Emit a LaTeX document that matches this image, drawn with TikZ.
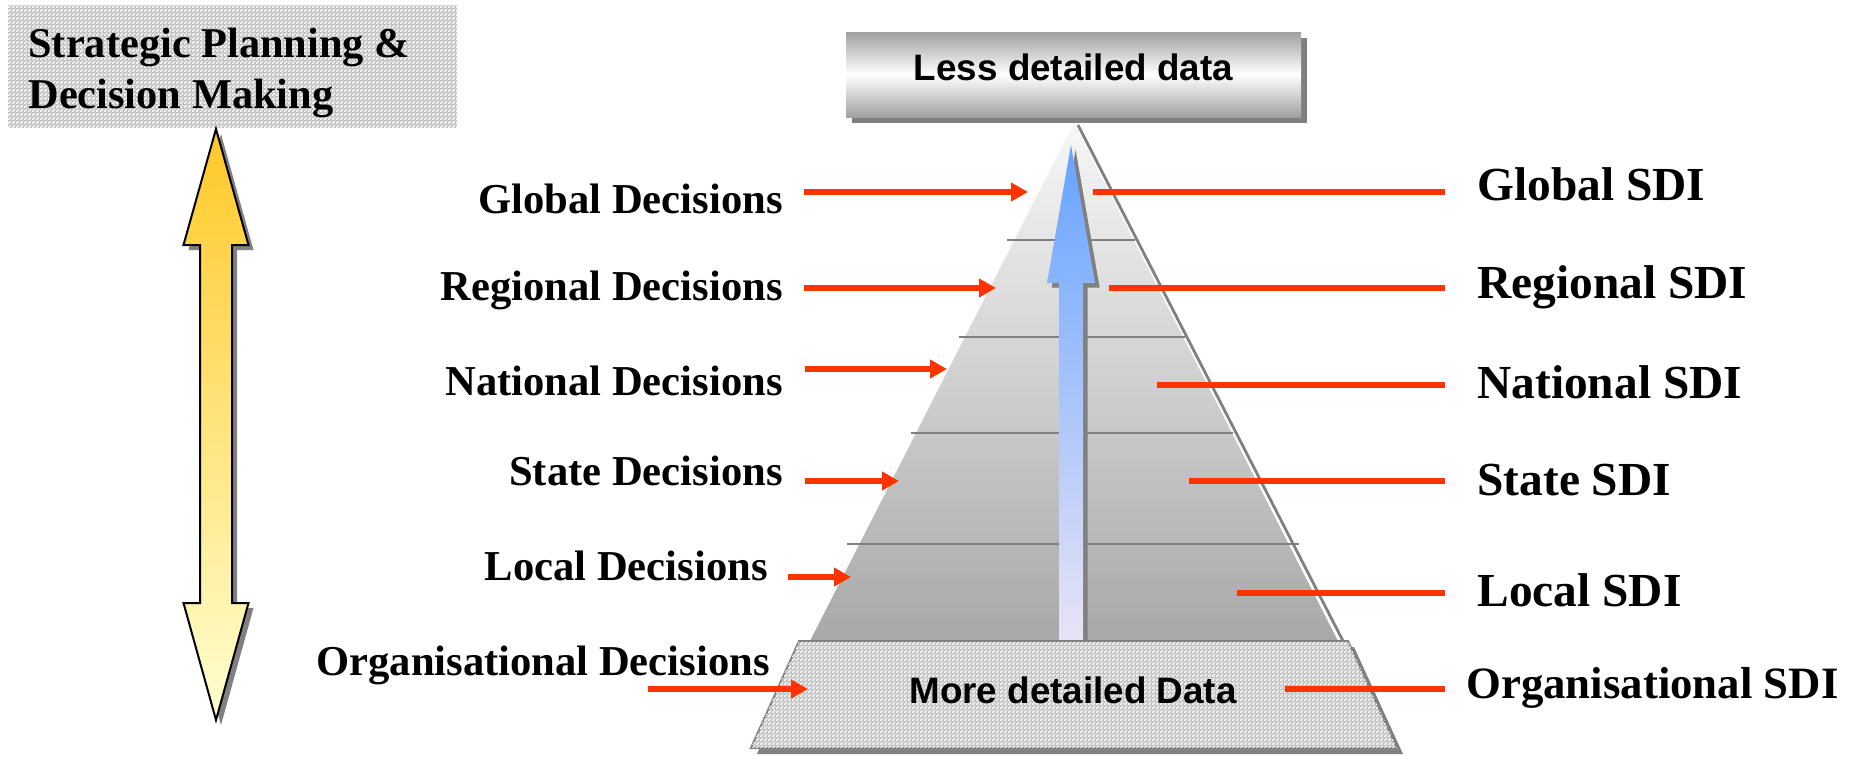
\documentclass[tikz,border=0pt]{standalone}
\usepackage{fontspec}
\setmainfont{Liberation Serif}
\newfontfamily\arialfont{Liberation Sans}
\usetikzlibrary{arrows.meta,patterns,shadows}

\definecolor{sdired}{RGB}{255,51,0}
\definecolor{edgegray}{RGB}{128,128,128}
\definecolor{chkbase}{RGB}{195,195,195}
\definecolor{goldtop}{RGB}{255,200,40}
\definecolor{goldbot}{RGB}{255,255,210}
\definecolor{bluetop}{RGB}{102,163,255}
\definecolor{bluebot}{RGB}{232,228,245}
\definecolor{pyrtop}{RGB}{247,247,247}
\definecolor{pyrbot}{RGB}{168,168,168}
\definecolor{lessgray}{RGB}{160,160,160}

% fine checker used for the two hatched panels
\pgfdeclarepatternformonly{chkfine}{\pgfpointorigin}{\pgfpoint{2pt}{2pt}}{\pgfpoint{2pt}{2pt}}{%
  \pgfpathrectangle{\pgfpointorigin}{\pgfpoint{1pt}{1pt}}%
  \pgfpathrectangle{\pgfpoint{1pt}{1pt}}{\pgfpoint{1pt}{1pt}}%
  \pgfusepath{fill}}

\tikzset{
  chkpanel/.style={fill=chkbase, postaction={pattern=chkfine, pattern color=white}},
  grayshadow/.style={drop shadow={shadow xshift=#1, shadow yshift=-#1, fill=edgegray, opacity=1}},
  planlab/.style={anchor=base west, inner sep=0, font=\fontsize{21.2}{21.2}\selectfont\bfseries},
  declab/.style={anchor=base east, inner sep=0, font=\fontsize{21.3}{21.3}\selectfont\bfseries},
  sdilab/.style={anchor=base west, inner sep=0, font=\fontsize{23.7}{23.7}\selectfont\bfseries},
  datalab/.style={anchor=base, inner sep=0, font=\arialfont\fontsize{18.4}{18.4}\selectfont\bfseries},
  decarrow/.style={->, draw=sdired, line width=2.8pt},
  sdiline/.style={draw=sdired, line width=2.8pt},
  layer/.style={draw=edgegray, line width=1.4pt},
  lessbox/.style={minimum width=227.5pt, minimum height=42.5pt, inner sep=0,
    top color=lessgray, bottom color=lessgray, middle color=white, grayshadow=3pt},
}

\begin{document}
\begin{tikzpicture}[x=0.5pt, y=-0.5pt, >={Triangle[length=8.5pt,width=9pt]}]
\useasboundingbox (0,0) rectangle (1854,756);

% heading on the left
\path[chkpanel] (8,5) rectangle (457,128);
\node[planlab] (plan1) at (28,57) {Strategic Planning \&};
\node[planlab] (plan2) at (28,108) {Decision Making};

% two-headed arrow
\shade[top color=goldtop, bottom color=goldbot, draw=black, line width=1pt, grayshadow=2.5pt]
  (216,129) -- (248.5,245) -- (232,245) -- (232,603) -- (248.5,603) -- (216,720)
  -- (183.5,603) -- (200,603) -- (200,245) -- (183.5,245) -- cycle;

% pyramid and its layers
\shade[top color=pyrtop, bottom color=pyrbot] (1074,123) -- (1338,641) -- (810,641) -- cycle;
\draw[layer] (1078,125) -- (1343,641);
\draw[layer] (1007,240) -- (1135,240);
\draw[layer] (959,337) -- (1185,337);
\draw[layer] (911,433) -- (1233,433);
\draw[layer] (847,544) -- (1299,544);

% blue arrow up the middle
\shade[top color=bluetop, bottom color=bluebot, grayshadow=2.3pt]
  (1071,145) -- (1095,283) -- (1083,283) -- (1083,641) -- (1059,641) -- (1059,283) -- (1047,283) -- cycle;

% base slab
\path[chkpanel, draw=edgegray, line width=1pt, grayshadow=3pt]
  (799,641) -- (1348,641) -- (1397,748) -- (751,748) -- cycle;
\node[datalab] (more) at (1073,703) {More detailed Data};

% top box
\node[lessbox] (less) at (1073.5,74.5) {};
\node[datalab] (lesstxt) at (1073.5,80) {Less detailed data};

% decisions, left side
\node[declab] (gd) at (783,213) {Global Decisions};
\node[declab] (rd) at (783,300) {Regional Decisions};
\node[declab] (nd) at (783,395) {National Decisions};
\node[declab] (sd) at (783,485) {State Decisions};
\node[declab] (ld) at (768,580) {Local Decisions};
\node[declab] (od) at (770,675) {Organisational Decisions};
\draw[decarrow] (804,192) coordinate (gd-a) -- (1028,192) coordinate (gd-b);
\draw[decarrow] (804,288) coordinate (rd-a) -- (996,288) coordinate (rd-b);
\draw[decarrow] (805,369) coordinate (nd-a) -- (947,369) coordinate (nd-b);
\draw[decarrow] (805,481) coordinate (sd-a) -- (899,481) coordinate (sd-b);
\draw[decarrow] (788,577) coordinate (ld-a) -- (851,577) coordinate (ld-b);
\draw[decarrow] (648,689) coordinate (od-a) -- (808,689) coordinate (od-b);

% SDI levels, right side
\node[sdilab] (gs) at (1477,200) {Global SDI};
\node[sdilab] (rs) at (1477,298) {Regional SDI};
\node[sdilab] (ns) at (1477,398) {National SDI};
\node[sdilab] (ss) at (1477,495) {State SDI};
\node[sdilab] (ls) at (1477,606) {Local SDI};
\node[sdilab, font=\fontsize{22.4}{22.4}\selectfont\bfseries] (os) at (1466,698) {Organisational SDI};
\draw[sdiline] (1093,192) coordinate (gs-a) -- (1445,192) coordinate (gs-b);
\draw[sdiline] (1109,288) coordinate (rs-a) -- (1445,288) coordinate (rs-b);
\draw[sdiline] (1157,385) coordinate (ns-a) -- (1445,385) coordinate (ns-b);
\draw[sdiline] (1189,481) coordinate (ss-a) -- (1445,481) coordinate (ss-b);
\draw[sdiline] (1237,593) coordinate (ls-a) -- (1445,593) coordinate (ls-b);
\draw[sdiline] (1285,689) coordinate (os-a) -- (1445,689) coordinate (os-b);
\end{tikzpicture}
\end{document}
